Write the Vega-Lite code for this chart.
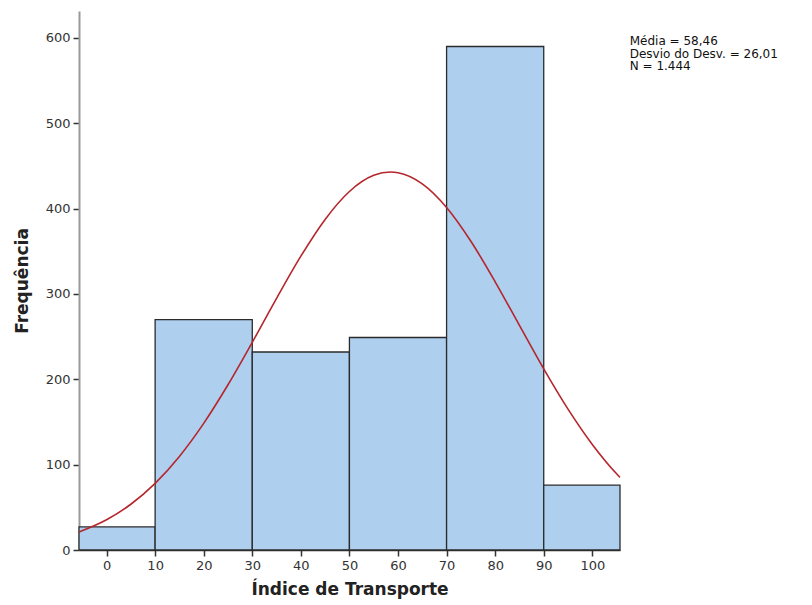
{
  "$schema": "https://vega.github.io/schema/vega-lite/v6.json",
  "width": 541,
  "height": 539,
  "autosize": {"type": "none"},
  "padding": {"left": 79, "top": 11, "right": 192, "bottom": 55},
  "background": "white",
  "config": {"view": {"stroke": null}, "font": "DejaVu Sans"},
  "datasets": {
    "bins": [
      {"lo": -5.67, "hi": 10, "count": 27},
      {"lo": 10, "hi": 30, "count": 270},
      {"lo": 30, "hi": 50, "count": 232},
      {"lo": 50, "hi": 70, "count": 249},
      {"lo": 70, "hi": 90, "count": 590},
      {"lo": 90, "hi": 105.7, "count": 76}
    ],
    "curve": [
      {"x": -5.67, "f": 21.1}, {"x": 0, "f": 35.4}, {"x": 5, "f": 53.6}, {"x": 10, "f": 78.1},
      {"x": 15, "f": 109.7}, {"x": 20, "f": 148.4}, {"x": 25, "f": 193.6}, {"x": 30, "f": 243.4},
      {"x": 35, "f": 294.9}, {"x": 40, "f": 344.3}, {"x": 45, "f": 387.4}, {"x": 50, "f": 420.1},
      {"x": 55, "f": 439.0}, {"x": 58.46, "f": 442.9}, {"x": 60, "f": 442.1}, {"x": 65, "f": 429.1},
      {"x": 70, "f": 401.4}, {"x": 75, "f": 361.8}, {"x": 80, "f": 314.3}, {"x": 85, "f": 263.2},
      {"x": 90, "f": 212.3}, {"x": 95, "f": 165.1}, {"x": 100, "f": 123.7}, {"x": 105, "f": 89.3},
      {"x": 105.7, "f": 85.1}
    ],
    "stats": [
      {"x": 107.7, "y": 591.2, "label": ["Média = 58,46", "\u00a0Desvio do Desv. = 26,01", "N = 1.444"]}
    ]
  },
  "layer": [
    {
      "data": {"name": "bins"},
      "mark": {"type": "rect", "fill": "#aecfee", "stroke": "#2b2b2b", "strokeWidth": 1.3},
      "encoding": {
        "x": {
          "field": "lo", "type": "quantitative",
          "scale": {"domain": [-5.67, 105.7], "nice": false, "zero": false},
          "axis": {
            "title": "Índice de Transporte",
            "values": [0, 10, 20, 30, 40, 50, 60, 70, 80, 90, 100],
            "grid": false,
            "domain": true, "domainColor": "#333", "domainWidth": 1.5,
            "tickColor": "#333", "tickSize": 6, "tickWidth": 1.5,
            "labelFont": "DejaVu Sans", "labelFontSize": 13, "labelColor": "#333", "labelPadding": 3,
            "titleFont": "DejaVu Sans", "titleFontSize": 17, "titleFontWeight": "bold", "titleColor": "#222", "titlePadding": 9
          }
        },
        "x2": {"field": "hi"},
        "y": {
          "field": "count", "type": "quantitative",
          "scale": {"domain": [0, 631.6], "nice": false},
          "axis": {
            "title": "Frequência",
            "values": [0, 100, 200, 300, 400, 500, 600],
            "format": "d",
            "grid": false,
            "domain": true, "domainColor": "#999", "domainWidth": 2,
            "tickColor": "#333", "tickSize": 6, "tickWidth": 1.5,
            "labelFont": "DejaVu Sans", "labelFontSize": 13, "labelColor": "#333", "labelPadding": 3,
            "titleFont": "DejaVu Sans", "titleFontSize": 17, "titleFontWeight": "bold", "titleColor": "#222", "titlePadding": 14
          }
        },
        "y2": {"datum": 0}
      }
    },
    {
      "data": {"name": "curve"},
      "mark": {"type": "line", "color": "#b5262c", "strokeWidth": 1.6, "interpolate": "monotone"},
      "encoding": {
        "x": {"field": "x", "type": "quantitative"},
        "y": {"field": "f", "type": "quantitative"}
      }
    },
    {
      "data": {"name": "stats"},
      "mark": {"type": "text", "align": "left", "baseline": "alphabetic", "fontSize": 12, "lineHeight": 12.5, "color": "#111", "clip": false, "font": "DejaVu Sans"},
      "encoding": {
        "x": {"field": "x", "type": "quantitative"},
        "y": {"field": "y", "type": "quantitative"},
        "text": {"field": "label"}
      }
    }
  ]
}
